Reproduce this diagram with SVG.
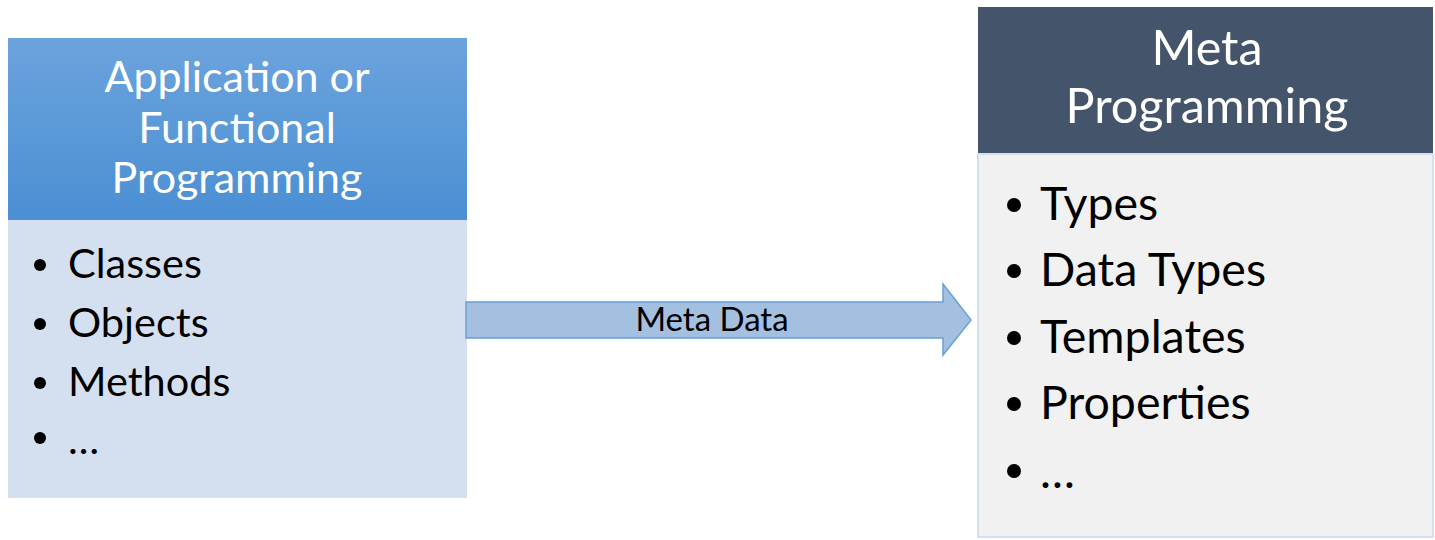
<svg xmlns="http://www.w3.org/2000/svg" width="1435" height="540" viewBox="0 0 1435 540">
<defs>
<linearGradient id="lg" x1="0" y1="0" x2="0" y2="1">
<stop offset="0" stop-color="#6ca3dd"/>
<stop offset="1" stop-color="#4a8fd3"/>
</linearGradient>
<style>
text{font-family:Lato,"Open Sans",sans-serif}
.hl{fill:#fff;font-size:43px;text-anchor:middle}
.hr{fill:#fff;font-size:48.5px;text-anchor:middle}
.bl{fill:#000;font-size:41.5px}
.br{fill:#000;font-size:46.5px}
.lbl{fill:#000;font-size:33px;text-anchor:middle}
</style>
</defs>
<rect width="1435" height="540" fill="#fff"/>
<g id="left-node">
<rect x="8" y="38" width="459" height="182" fill="url(#lg)"/>
<rect x="8" y="220" width="459" height="278" fill="#d4e0f0"/>
<text class="hl" x="237" y="92">Application or</text>
<text class="hl" x="237" y="143">Functional</text>
<text class="hl" x="237" y="193">Programming</text>
<g class="bl">
<circle cx="40" cy="265" r="6"/><text x="68" y="278">Classes</text>
<circle cx="40" cy="324" r="6"/><text x="68" y="337">Objects</text>
<circle cx="40" cy="383" r="6"/><text x="68" y="396">Methods</text>
<circle cx="40" cy="438" r="6"/><text x="68" y="454">…</text>
</g>
</g>
<g id="right-node">
<rect x="978" y="7" width="455" height="147" fill="#44546a"/>
<rect x="978" y="154" width="455" height="383" fill="#f1f1f1" stroke="#d4e0f0" stroke-width="2"/>
<text class="hr" x="1207" y="65">Meta</text>
<text class="hr" x="1207" y="123">Programming</text>
<g class="br">
<circle cx="1014" cy="205" r="7"/><text x="1040" y="220">Types</text>
<circle cx="1014" cy="271" r="7"/><text x="1040" y="286">Data Types</text>
<circle cx="1014" cy="338" r="7"/><text x="1040" y="353">Templates</text>
<circle cx="1014" cy="404" r="7"/><text x="1040" y="419">Properties</text>
<circle cx="1014" cy="471" r="7"/><text x="1040" y="488">…</text>
</g>
</g>
<g id="connectors">
<path d="M466,302 H943 V284 L971,320 L943,355 V338 H466 Z" fill="#a3c0e1" stroke="#6b9fd8" stroke-width="1.5"/>
<text class="lbl" x="712" y="331">Meta Data</text>
</g>
</svg>
